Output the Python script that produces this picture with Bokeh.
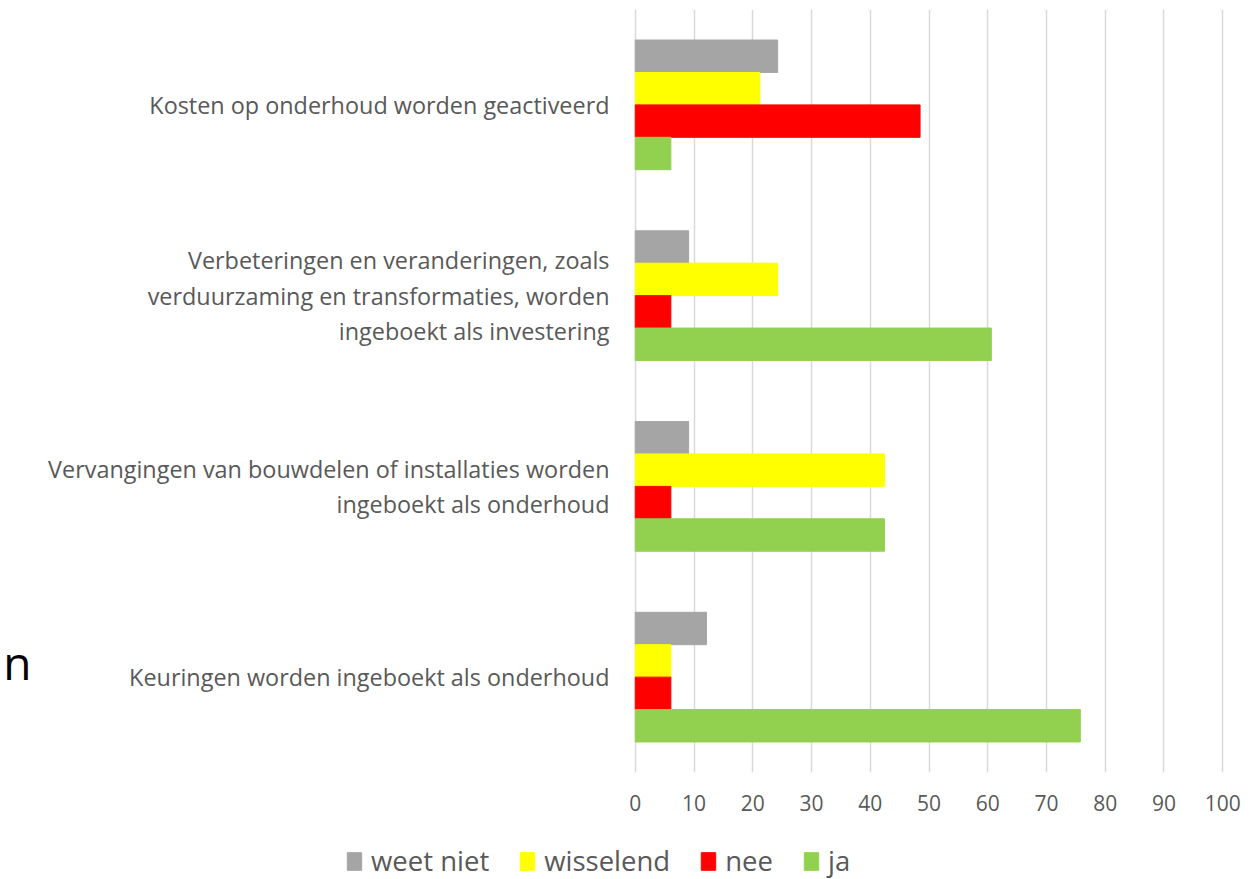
from bokeh.plotting import figure
from bokeh.models import (FactorRange, Range1d, FixedTicker, Legend, LegendItem,
                          ColumnDataSource, CategoricalAxis)
from bokeh.layouts import column
from bokeh.transform import dodge
from bokeh.embed import file_html
from bokeh.resources import INLINE

# ---- data (top to bottom as in the chart) ----
categories = [
    "Kosten op onderhoud worden geactiveerd",
    "Verbeteringen en veranderingen, zoals\nverduurzaming en transformaties, worden\ningeboekt als investering",
    "Vervangingen van bouwdelen of installaties worden\ningeboekt als onderhoud",
    "Keuringen worden ingeboekt als onderhoud",
]
series = ["weet niet", "wisselend", "nee", "ja"]
series_keys = ["weet_niet", "wisselend", "nee", "ja"]
colors = ["#A5A5A5", "#FFFF00", "#FF0000", "#92D050"]
weet_niet = [24.24, 9.09, 9.09, 12.12]
wisselend = [21.21, 24.24, 42.42, 6.06]
nee = [48.48, 6.06, 6.06, 6.06]
ja = [6.06, 60.61, 42.42, 75.76]
x_ticks = [0, 10, 20, 30, 40, 50, 60, 70, 80, 90, 100]
stray_text = "n"

FONT = "Open Sans"
TXT = "#595959"

source = ColumnDataSource(dict(cat=categories, weet_niet=weet_niet,
                               wisselend=wisselend, nee=nee, ja=ja))

p = figure(width=1255, height=840, output_backend="svg", toolbar_location=None,
           y_range=FactorRange(factors=list(reversed(categories))),
           x_range=Range1d(-0.3, 100.3),
           min_border_left=633, min_border_right=31,
           min_border_top=9, min_border_bottom=68)
p.outline_line_color = None
p.background_fill_color = "white"
p.border_fill_color = "white"

offsets = [0.255, 0.085, -0.085, -0.255]
for key, col, off in zip(series_keys, colors, offsets):
    p.hbar(y=dodge("cat", off, range=p.y_range), left=0, right=key,
           height=0.17, source=source, fill_color=col, line_color=col)

# x axis / grid
p.xaxis.ticker = FixedTicker(ticks=x_ticks)
p.xaxis.axis_line_color = None
p.xaxis.major_tick_line_color = None
p.xaxis.minor_tick_line_color = None
p.xaxis.major_label_standoff = 16
p.xaxis.major_label_text_font = FONT
p.xaxis.major_label_text_font_size = "21px"
p.xaxis.major_label_text_color = TXT
p.xgrid.ticker = FixedTicker(ticks=x_ticks)
p.xgrid.grid_line_color = "#D9D9D9"
p.xgrid.grid_line_width = 1.5
p.ygrid.grid_line_color = None

# y axis (categories)
p.yaxis.axis_line_color = None
p.yaxis.major_tick_line_color = None
p.yaxis.minor_tick_line_color = None
p.yaxis.major_label_standoff = 18
p.yaxis.major_label_text_font = FONT
p.yaxis.major_label_text_font_size = "23.4px"
p.yaxis.major_label_text_color = TXT
p.yaxis.major_label_text_line_height = 1.1

# stray text fragment at the far left (outer categorical axis)
p.extra_y_ranges = {"stray": FactorRange(factors=[stray_text, " "],
                                         factor_padding=1.45)}
stray_axis = CategoricalAxis(y_range_name="stray",
                             axis_line_color=None, major_tick_line_color=None,
                             minor_tick_line_color=None, major_label_standoff=8,
                             major_label_text_font=FONT,
                             major_label_text_font_size="46px",
                             major_label_text_color="black")
p.add_layout(stray_axis, "left")

# legend strip below
leg = figure(width=1255, height=39, output_backend="svg", toolbar_location=None,
             x_range=Range1d(0, 1), y_range=Range1d(0, 1),
             x_axis_type=None, y_axis_type=None, min_border=0)
try:
    leg.frame_align = False
except Exception:
    pass
leg.outline_line_color = None
leg.xgrid.grid_line_color = None
leg.ygrid.grid_line_color = None
# swatch-only renderers (kept outside the visible range)
swatch = ColumnDataSource(dict(y=[5], right=[5]))
items = []
for s, col in zip(series, colors):
    r = leg.hbar(y="y", left=4, right="right", height=0.5, source=swatch,
                 fill_color=col, line_color=col)
    items.append(LegendItem(label=s, renderers=[r]))
legend = Legend(items=items, orientation="horizontal", location=(345, 0),
                glyph_width=18, glyph_height=22, label_standoff=8, spacing=29,
                label_text_font=FONT, label_text_font_size="27.5px",
                label_text_color=TXT, border_line_color=None,
                background_fill_alpha=0, padding=0, margin=0)
leg.add_layout(legend, "center")

layout = column(p, leg, spacing=0)
open("out.html", "w").write(file_html(layout, INLINE))
